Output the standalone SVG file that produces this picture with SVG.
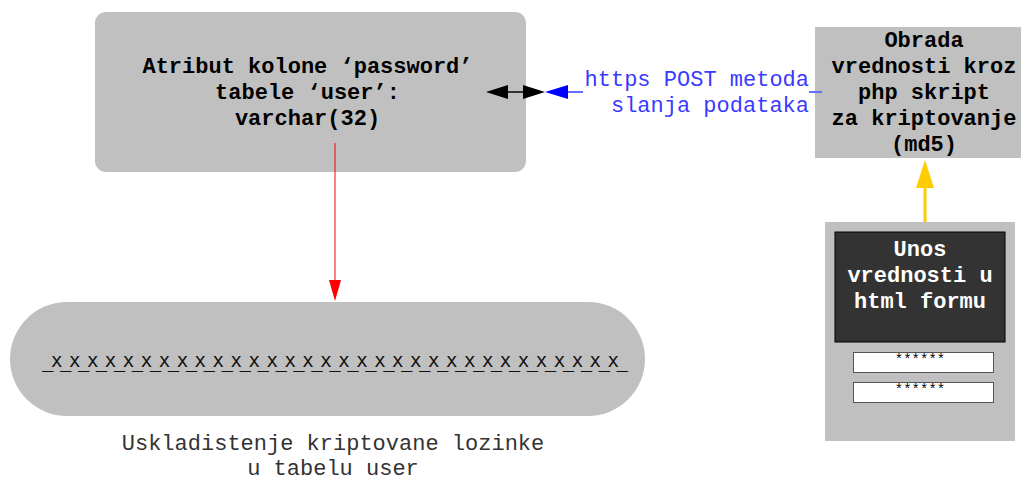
<svg xmlns="http://www.w3.org/2000/svg" width="1021" height="481" viewBox="0 0 1021 481">
<style>
.lbl{font-family:"Liberation Mono","Courier New",monospace;font-size:22px;font-weight:bold;fill:#000;text-anchor:middle}
.wht{fill:#fff}
.cap{font-family:"Liberation Mono","Courier New",monospace;font-size:22px;fill:#333;text-anchor:middle}
.blue{font-family:"Liberation Mono","Courier New",monospace;font-size:22px;fill:#3a3aff;text-anchor:end}
.gray{fill:#c0c0c0}
.inp{fill:#fff;stroke:#555;stroke-width:1}
.star{font-family:"Liberation Mono","Courier New",monospace;font-size:14px;fill:#000;text-anchor:middle}
</style>
<rect width="1021" height="481" fill="#fff"/>
<g id="node-atribut">
<rect class="gray" x="95" y="12" width="431" height="160" rx="11"/>
<text class="lbl" x="307.5" y="73">Atribut kolone ‘password’</text>
<text class="lbl" x="307.5" y="99">tabele ‘user’:</text>
<text class="lbl" x="307.5" y="125">varchar(32)</text>
</g>
<g id="node-obrada">
<rect class="gray" x="815" y="27" width="210" height="131"/>
<text class="lbl" x="924" y="47">Obrada</text>
<text class="lbl" x="924" y="73">vrednosti kroz</text>
<text class="lbl" x="924" y="99">php skript</text>
<text class="lbl" x="924" y="125">za kriptovanje</text>
<text class="lbl" x="924" y="151">(md5)</text>
</g>
<g id="node-forma">
<rect class="gray" x="825" y="222" width="190" height="219"/>
<rect x="835" y="232" width="170" height="110" fill="#333" stroke="#000" stroke-width="1"/>
<text class="lbl wht" x="920" y="256">Unos</text>
<text class="lbl wht" x="920" y="282">vrednosti u</text>
<text class="lbl wht" x="920" y="308">html formu</text>
<rect class="inp" x="853.5" y="352.5" width="140" height="20"/>
<text class="star" x="920" y="364">******</text>
<rect class="inp" x="853.5" y="382.5" width="140" height="20"/>
<text class="star" x="920" y="394">******</text>
</g>
<g id="node-skladiste">
<rect class="gray" x="10" y="302" width="635" height="114" rx="57" ry="57"/>
<text x="42" y="367" font-family="'DejaVu Sans Mono',monospace" font-size="19" fill="#111" textLength="586" lengthAdjust="spacing">_x_x_x_x_x_x_x_x_x_x_x_x_x_x_x_x_x_x_x_x_x_x_x_x_x_x_x_x_x_x_x_x_</text>
<text class="cap" x="333" y="450">Uskladistenje kriptovane lozinke</text>
<text class="cap" x="333" y="475">u tabelu user</text>
</g>
<g id="connectors">
<line x1="335" y1="143" x2="335" y2="281" stroke="#ff0000" stroke-width="1"/>
<polygon points="329,280 341,280 335,301" fill="#ff0000"/>
<line x1="506" y1="92" x2="526" y2="92" stroke="#333" stroke-width="2"/>
<polygon points="486,92 508,85 508,99" fill="#000"/>
<polygon points="545,92 523,85 523,99" fill="#000"/>
<path d="M822,92 H809 M583,92 H567" stroke="#6a6aff" stroke-width="2" fill="none"/>
<polygon points="545,92 568,85 568,99" fill="#0000ff"/>
<text class="blue" x="809" y="86">https POST metoda</text>
<text class="blue" x="809" y="112">slanja podataka</text>
<line x1="925" y1="222" x2="925" y2="186" stroke="#ffcc00" stroke-width="3"/>
<polygon points="916,188 934,188 925,160" fill="#ffcc00"/>
</g>
</svg>
